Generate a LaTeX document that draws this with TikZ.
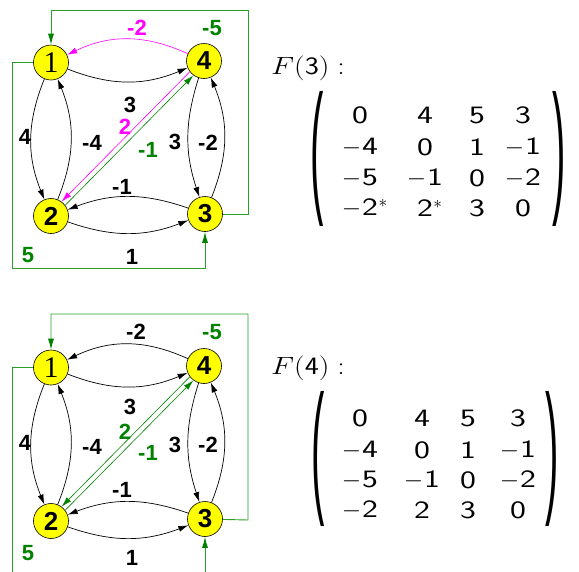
\documentclass[tikz,border=0pt]{standalone}
\usepackage{graphicx}
\usepackage{fontspec}
\newfontfamily\labfont{Liberation Sans}
\newfontfamily\serfont{Liberation Serif}
\usetikzlibrary{arrows.meta,calc}
\definecolor{gfr}{RGB}{40,160,40}
\definecolor{gdk}{RGB}{0,130,0}
\definecolor{mag}{RGB}{255,0,255}
\definecolor{nodey}{RGB}{255,255,0}
\newcommand\dg[1]{\scalebox{1.35}[1]{\sffamily #1}}
\newcommand\mn{$-$\kern0.8pt}
\newcommand\st{\rlap{\kern0.5pt\raisebox{8pt}{\fontsize{17}{17}\selectfont$\ast$}}}
\newcommand\bigpar[1]{\scalebox{1.6}[5.8]{#1}}
\begin{document}
\begin{tikzpicture}[x=1pt,y=1pt,
  vert/.style={circle,draw=black,fill=nodey,minimum size=35pt,inner sep=0pt,line width=0.6pt},
  numb/.style={font=\labfont\bfseries\fontsize{26}{26}\selectfont},
  one/.style={font=\serfont\fontsize{30}{30}\selectfont},
  lbl/.style={font=\labfont\bfseries\fontsize{22}{22}\selectfont,inner sep=0pt},
  arr/.style={-{Latex[length=10pt,width=6pt]},line width=0.7pt},
  thinarr/.style={-{Latex[length=10pt,width=6pt]},line width=0.6pt},
  frame/.style={gfr,line width=0.9pt},
  garr/.style={-{Latex[length=11pt,width=6pt,color=gdk]}},
  ent/.style={font=\fontsize{25}{29}\selectfont,inner sep=0pt},
  ttl/.style={font=\fontsize{25}{29}\selectfont,inner sep=0pt},
  par/.style={font=\labfont\fontsize{25}{29}\selectfont,inner sep=0pt}
]
\useasboundingbox (0,0) rectangle (579,-571);

% ---------- top graph ----------
\node[vert,one] (a1) at (51,-62.5) {1};
\node[vert,numb] (a4) at (204,-61) {4};
\node[vert,numb] (a2) at (51,-216) {2};
\node[vert,numb] (a3) at (205,-214) {3};

\draw[arr] (a1) to[bend right=22] (a4);
\draw[thinarr,mag] (a4) to[bend right=25] (a1);
\draw[arr] (a1) to[bend right=22] (a2);
\draw[arr] (a2) to[bend right=22] (a1);
\draw[arr] (a4) to[bend right=18] (a3);
\draw[arr] (a3) to[bend right=22] (a4);
\draw[arr] (a3) to[bend right=20] (a2);
\draw[arr] (a2) to[bend right=20] (a3);
\draw[thinarr,mag,transform canvas={shift={(-1.8,1.8)}}] (a4) -- (a2);
\draw[thinarr,gdk,transform canvas={shift={(1.8,-1.8)}}] (a2) -- (a4);

\coordinate (atA) at (51,-10);
\coordinate (atB) at (248,-10);
\coordinate (atC) at (248,-214);
\draw[frame,garr] (a3) -- (atC) -- (atB) -- (atA) -- (a1);
\coordinate (alA) at (12,-62.5);
\coordinate (alB) at (12,-268);
\coordinate (alC) at (205,-268);
\draw[frame,garr] (a1) -- (alA) -- (alB) -- (alC) -- (a3);

\node[lbl,mag] (la1) at (137,-28) {-2};
\node[lbl,gdk] (la2) at (212,-28) {-5};
\node[lbl] (la3) at (130,-105) {3};
\node[lbl,mag] (la4) at (125,-127) {2};
\node[lbl,gdk] (la5) at (148,-150) {-1};
\node[lbl] (la6) at (25,-137) {4};
\node[lbl] (la7) at (92,-143) {-4};
\node[lbl] (la8) at (175,-142) {3};
\node[lbl] (la9) at (208,-143) {-2};
\node[lbl] (la10) at (122,-187) {-1};
\node[lbl] (la11) at (132,-257) {1};
\node[lbl,gdk] (la12) at (28,-255) {5};

% ---------- bottom graph ----------
\begin{scope}[yshift=-305pt]
\node[vert,one] (b1) at (51,-62.5) {1};
\node[vert,numb] (b4) at (204,-61) {4};
\node[vert,numb] (b2) at (51,-216) {2};
\node[vert,numb] (b3) at (205,-214) {3};

\draw[arr] (b1) to[bend right=22] (b4);
\draw[arr] (b4) to[bend right=25] (b1);
\draw[arr] (b1) to[bend right=22] (b2);
\draw[arr] (b2) to[bend right=22] (b1);
\draw[arr] (b4) to[bend right=18] (b3);
\draw[arr] (b3) to[bend right=22] (b4);
\draw[arr] (b3) to[bend right=20] (b2);
\draw[arr] (b2) to[bend right=20] (b3);
\draw[thinarr,gdk,transform canvas={shift={(-1.8,1.8)}}] (b4) -- (b2);
\draw[thinarr,gdk,transform canvas={shift={(1.8,-1.8)}}] (b2) -- (b4);

\coordinate (btA) at (51,-9);
\coordinate (btB) at (248,-9);
\coordinate (btC) at (248,-215);
\draw[frame,garr] (b3) -- (btC) -- (btB) -- (btA) -- (b1);
\coordinate (blA) at (12,-62.5);
\coordinate (blB) at (12,-270);
\draw[frame] (b1) -- (blA) -- (blB);
\coordinate (blC) at (205,-270);
\draw[frame,garr] (blC) -- (b3);

\node[lbl] (lb1) at (136,-27) {-2};
\node[lbl,gdk] (lb2) at (212,-27) {-5};
\node[lbl] (lb3) at (130,-102) {3};
\node[lbl,gdk] (lb4) at (125,-127) {2};
\node[lbl,gdk] (lb5) at (148,-148) {-1};
\node[lbl] (lb6) at (25,-138) {4};
\node[lbl] (lb7) at (92,-142) {-4};
\node[lbl] (lb8) at (175,-140) {3};
\node[lbl] (lb9) at (208,-140) {-2};
\node[lbl] (lb10) at (122,-185) {-1};
\node[lbl] (lb11) at (132,-253) {1};
\node[lbl,gdk] (lb12) at (28,-248) {5};
\end{scope}

% ---------- matrix F(3) ----------
\node[ttl,anchor=west] (f3) at (271,-68) {\scalebox{1.2}[1]{$F(\mathsf{3})$}\hspace{8pt}\scalebox{1.2}[1]{$:$}};
\node[par] (p3l) at (317,-159) {\bigpar{(}};
\node[par] (p3r) at (559,-159) {\bigpar{)}};
\foreach \r/\y in {1/115,2/147,3/178,4/208}{
  \foreach \c/\x in {1/360,2/425,3/477,4/523}{
    \coordinate (c3-\r-\c) at (\x,-\y);
  }
}
\node[ent] (t11) at (c3-1-1) {\dg{0}};
\node[ent] (t12) at (c3-1-2) {\dg{4}};
\node[ent] (t13) at (c3-1-3) {\dg{5}};
\node[ent] (t14) at (c3-1-4) {\dg{3}};
\node[ent] (t21) at (c3-2-1) {\mn\dg{4}};
\node[ent] (t22) at (c3-2-2) {\dg{0}};
\node[ent] (t23) at (c3-2-3) {\dg{1}};
\node[ent] (t24) at (c3-2-4) {\mn\dg{1}};
\node[ent] (t31) at (c3-3-1) {\mn\dg{5}};
\node[ent] (t32) at (c3-3-2) {\mn\dg{1}};
\node[ent] (t33) at (c3-3-3) {\dg{0}};
\node[ent] (t34) at (c3-3-4) {\mn\dg{2}};
\node[ent] (t41) at (c3-4-1) {\mn\dg{2}\st};
\node[ent] (t42) at (c3-4-2) {\dg{2}\st};
\node[ent] (t43) at (c3-4-3) {\dg{3}};
\node[ent] (t44) at (c3-4-4) {\dg{0}};

% ---------- matrix F(4) ----------
\node[ttl,anchor=west] (f4) at (271,-368) {\scalebox{1.2}[1]{$F(\mathsf{4})$}\hspace{8pt}\scalebox{1.2}[1]{$:$}};
\node[par] (p4l) at (318,-459) {\bigpar{(}};
\node[par] (p4r) at (552,-459) {\bigpar{)}};
\foreach \r/\y in {1/418,2/450,3/480,4/510}{
  \foreach \c/\x in {1/360,2/422,3/468,4/518}{
    \coordinate (c4-\r-\c) at (\x,-\y);
  }
}
\node[ent] (u11) at (c4-1-1) {\dg{0}};
\node[ent] (u12) at (c4-1-2) {\dg{4}};
\node[ent] (u13) at (c4-1-3) {\dg{5}};
\node[ent] (u14) at (c4-1-4) {\dg{3}};
\node[ent] (u21) at (c4-2-1) {\mn\dg{4}};
\node[ent] (u22) at (c4-2-2) {\dg{0}};
\node[ent] (u23) at (c4-2-3) {\dg{1}};
\node[ent] (u24) at (c4-2-4) {\mn\dg{1}};
\node[ent] (u31) at (c4-3-1) {\mn\dg{5}};
\node[ent] (u32) at (c4-3-2) {\mn\dg{1}};
\node[ent] (u33) at (c4-3-3) {\dg{0}};
\node[ent] (u34) at (c4-3-4) {\mn\dg{2}};
\node[ent] (u41) at (c4-4-1) {\mn\dg{2}};
\node[ent] (u42) at (c4-4-2) {\dg{2}};
\node[ent] (u43) at (c4-4-3) {\dg{3}};
\node[ent] (u44) at (c4-4-4) {\dg{0}};
\end{tikzpicture}
\end{document}
